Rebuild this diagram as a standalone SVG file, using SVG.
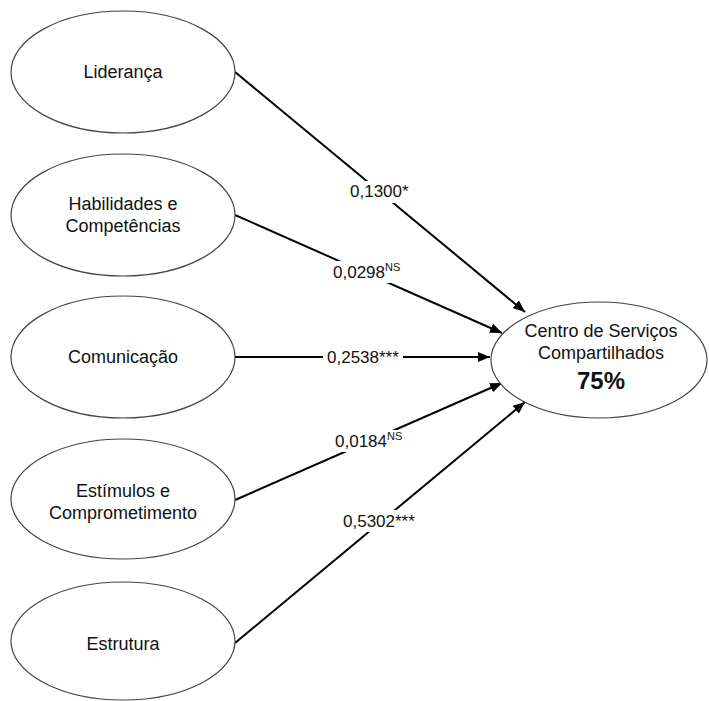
<svg xmlns="http://www.w3.org/2000/svg" width="709" height="701" viewBox="0 0 709 701">
<style>
.node{fill:#fff;stroke:#444;stroke-width:1.2}
.t{font-family:"Liberation Sans",Arial,sans-serif;font-size:18px;fill:#111;text-anchor:middle}
.lbl{font-family:"Liberation Sans",Arial,sans-serif;font-size:17px;fill:#111}
.sup{font-size:11px}
.edge{stroke:#000;stroke-width:2;fill:none}
.bg{fill:#fff}
</style>
<defs>
<marker id="ah" viewBox="0 0 12 10" refX="12" refY="5" markerWidth="12" markerHeight="10" markerUnits="userSpaceOnUse" orient="auto">
<path d="M0,0 L12,5 L0,10 Z" fill="#000"/>
</marker>
</defs>
<rect width="709" height="701" fill="#fff"/>
<g id="connectors">
<line class="edge" x1="235" y1="72" x2="525" y2="312" marker-end="url(#ah)"/>
<line class="edge" x1="235" y1="215" x2="502" y2="333" marker-end="url(#ah)"/>
<line class="edge" x1="235" y1="357" x2="490" y2="357" marker-end="url(#ah)"/>
<line class="edge" x1="235" y1="500" x2="502" y2="383" marker-end="url(#ah)"/>
<line class="edge" x1="235" y1="643" x2="525" y2="402" marker-end="url(#ah)"/>
<rect class="bg" x="348" y="181" width="64" height="22"/>
<text class="lbl" x="350" y="197">0,1300*</text>
<rect class="bg" x="331" y="261" width="72" height="22"/>
<text class="lbl" x="333" y="278">0,0298<tspan class="sup" dy="-7">NS</tspan></text>
<rect class="bg" x="323" y="346" width="80" height="22"/>
<text class="lbl" x="327" y="363">0,2538***</text>
<rect class="bg" x="333" y="430" width="71" height="22"/>
<text class="lbl" x="335" y="447">0,0184<tspan class="sup" dy="-7">NS</tspan></text>
<rect class="bg" x="341" y="510" width="78" height="22"/>
<text class="lbl" x="343" y="527">0,5302***</text>
</g>
<g id="lideranca">
<ellipse class="node" cx="123" cy="72" rx="112" ry="61"/>
<text class="t" x="123" y="78">Liderança</text>
</g>
<g id="habilidades">
<ellipse class="node" cx="123" cy="215" rx="112" ry="61"/>
<text class="t" x="123" y="210">Habilidades e</text>
<text class="t" x="123" y="232">Competências</text>
</g>
<g id="comunicacao">
<ellipse class="node" cx="123" cy="357" rx="112" ry="61"/>
<text class="t" x="123" y="363">Comunicação</text>
</g>
<g id="estimulos">
<ellipse class="node" cx="123" cy="499" rx="112" ry="60"/>
<text class="t" x="123" y="497">Estímulos e</text>
<text class="t" x="123" y="519">Comprometimento</text>
</g>
<g id="estrutura">
<ellipse class="node" cx="123" cy="641" rx="112" ry="59"/>
<text class="t" x="123" y="650">Estrutura</text>
</g>
<g id="centro">
<ellipse class="node" cx="599" cy="360" rx="108" ry="58"/>
<text class="t" x="601" y="337">Centro de Serviços</text>
<text class="t" x="601" y="359">Compartilhados</text>
<text class="t" x="601" y="389" style="font-weight:bold;font-size:24px">75%</text>
</g>
</svg>
